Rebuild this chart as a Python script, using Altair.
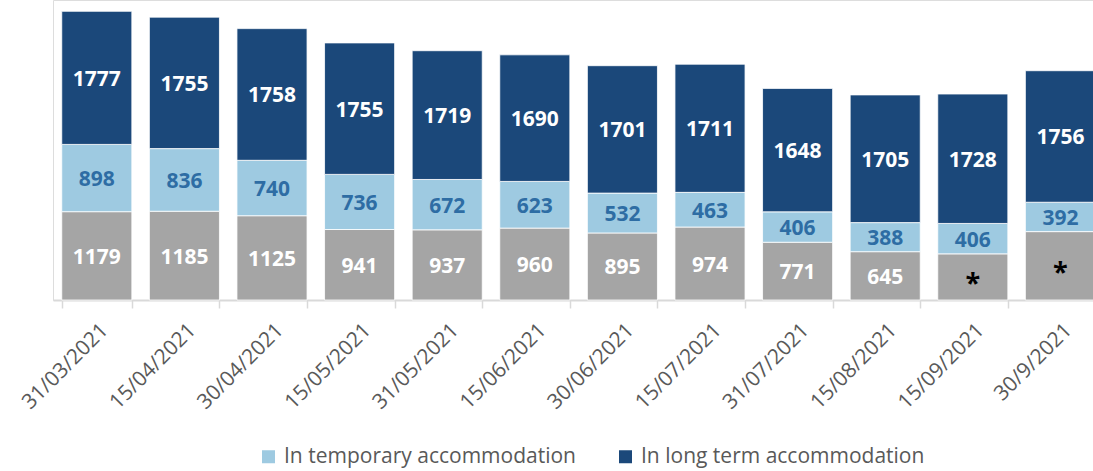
import altair as alt
import pandas as pd

dates = ["31/03/2021", "15/04/2021", "30/04/2021", "15/05/2021", "31/05/2021", "15/06/2021",
         "30/06/2021", "15/07/2021", "31/07/2021", "15/08/2021", "15/09/2021", "30/9/2021"]
gray_vals = [1179, 1185, 1125, 941, 937, 960, 895, 974, 771, 645, 616, 913]
gray_labels = ["1179", "1185", "1125", "941", "937", "960", "895", "974", "771", "645", "*", "*"]
temp_vals = [898, 836, 740, 736, 672, 623, 532, 463, 406, 388, 406, 392]
long_vals = [1777, 1755, 1758, 1755, 1719, 1690, 1701, 1711, 1648, 1705, 1728, 1756]

S_GRAY = "Other"
S_TEMP = "In temporary accommodation"
S_LONG = "In long term accommodation"

rows = []
for i, d in enumerate(dates):
    base = 0
    segs = [
        (S_GRAY, gray_vals[i], gray_labels[i], 0, "#ffffff"),
        (S_TEMP, temp_vals[i], str(temp_vals[i]), 1, "#2E6DA4"),
        (S_LONG, long_vals[i], str(long_vals[i]), 2, "#ffffff"),
    ]
    for name, v, lab, order, tc in segs:
        rows.append({"date": d, "series": name, "value": v, "label": lab, "order": order,
                     "start": base, "end": base + v, "mid": base + v / 2, "tcolor": tc})
        base += v
df = pd.DataFrame(rows)

xscale = alt.Scale(range=[0, 1051.2], paddingInner=0.2, paddingOuter=0.1)
yscale = alt.Scale(domain=[0, 4005], nice=False, zero=True)

x = alt.X("date:N", sort=dates, scale=xscale,
          axis=alt.Axis(title=None, labelAngle=-45, labelAlign="right", labelBaseline="top",
                        labelFont="Open Sans", labelFontSize=21, labelColor="#595959",
                        labelPadding=11,
                        tickSize=8, tickColor="#d9d9d9", tickWidth=1.5,
                        domainColor="#d9d9d9", domainWidth=2, tickBand="extent",
                        labelOverlap=False, labelBound=False, grid=False))

bars = alt.Chart(df).mark_bar(stroke="white", strokeWidth=0.8).encode(
    x=x,
    y=alt.Y("start:Q", scale=yscale, axis=None),
    y2="end:Q",
    color=alt.Color("series:N",
                    scale=alt.Scale(domain=[S_GRAY, S_TEMP, S_LONG],
                                    range=["#A5A5A5", "#9ECAE1", "#1B487A"]),
                    legend=alt.Legend(title=None, orient="none", legendX=205, legendY=446,
                                      direction="horizontal", values=[S_TEMP, S_LONG],
                                      symbolType="square", symbolSize=169, symbolStrokeWidth=0,
                                      labelFont="Open Sans", labelFontSize=21,
                                      labelColor="#595959", labelOffset=5, labelLimit=600,
                                      columnPadding=39, padding=0)),
    order=alt.Order("order:Q"),
)

num_labels = alt.Chart(df).transform_filter(alt.datum.label != "*").mark_text(
    font="Open Sans", fontSize=21, fontWeight="bold", baseline="middle", align="center", dy=2
).encode(
    x=alt.X("date:N", sort=dates, scale=xscale),
    y=alt.Y("mid:Q", scale=yscale),
    text="label:N",
    color=alt.Color("tcolor:N", scale=None),
)

star_labels = alt.Chart(df).transform_filter(alt.datum.label == "*").mark_text(
    font="Open Sans", fontSize=27, fontWeight="bold", baseline="middle", align="center",
    dy=7, color="#000000"
).encode(
    x=alt.X("date:N", sort=dates, scale=xscale),
    y=alt.Y("mid:Q", scale=yscale),
    text="label:N",
)

chart = alt.layer(bars, num_labels, star_labels).properties(
    width=1040, height=300,
    padding={"left": 53, "top": 0, "right": 0, "bottom": 171},
    autosize=alt.AutoSizeParams(type="none"),
).configure_view(stroke=None).configure(background="white")

chart.save("out.html", embed_options={"renderer": "svg", "actions": False})
